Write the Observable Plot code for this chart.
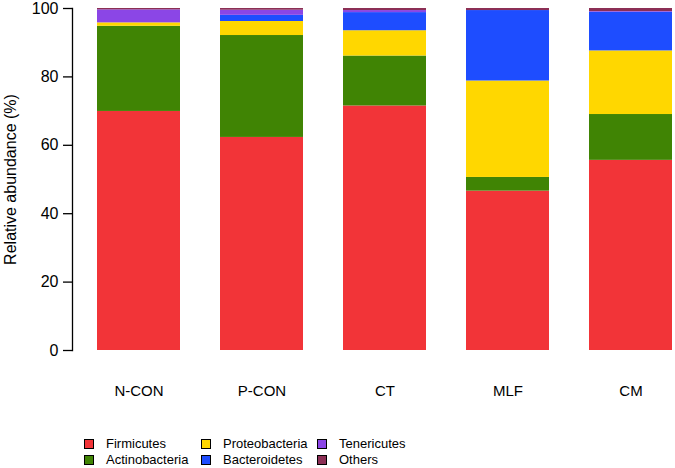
<!DOCTYPE html>
<html><head><meta charset="utf-8">
<script src="https://cdn.jsdelivr.net/npm/d3@7"></script>
<script src="https://cdn.jsdelivr.net/npm/@observablehq/plot@0.6"></script>
<style>
body{margin:0;background:#fff;font-family:"Liberation Sans",Arial,sans-serif;}
#wrap{position:relative;width:675px;height:468px;}
.leg{position:absolute;font-size:13px;color:#000;line-height:16px;white-space:nowrap;}
.sw{display:inline-block;width:8px;height:8px;border:1px solid #000;margin-right:12px;vertical-align:-1px;}
</style></head>
<body><div id="wrap"></div>
<script>
const groups = ["N-CON","P-CON","CT","MLF","CM"];
const phyla = ["Firmicutes","Actinobacteria","Proteobacteria","Bacteroidetes","Tenericutes","Others"];
const colors = ["#F23438","#408404","#FFD700","#1E4DFF","#8B46E6","#8C2F55"];
const firmicutes     = [69.9, 62.3, 71.5, 46.6, 55.6];
const actinobacteria = [24.9, 29.8, 14.6,  4.0, 13.4];
const proteobacteria = [ 1.0,  4.1,  7.4, 28.2, 18.6];
const bacteroidetes  = [ 0.0,  1.8,  5.3, 20.6, 11.3];
const tenericutes    = [ 3.8,  1.5,  0.6,  0.0,  0.2];
const others         = [ 0.4,  0.5,  0.6,  0.6,  0.9];
const yTicks = [0, 20, 40, 60, 80, 100];

const series = [firmicutes, actinobacteria, proteobacteria, bacteroidetes, tenericutes, others];
const data = [];
phyla.forEach((p, i) => groups.forEach((g, j) => data.push({group: g, phylum: p, value: series[i][j]})));

const chart = Plot.plot({
  width: 675, height: 400,
  marginLeft: 72, marginRight: 2, marginTop: 8, marginBottom: 50,
  style: {fontFamily: '"Liberation Sans", Arial, sans-serif', fontSize: "15px", color: "#000"},
  x: {domain: groups, range: [96, 673], paddingInner: 0.327, paddingOuter: 0, label: null},
  y: {domain: [0, 100], label: null},
  color: {domain: phyla, range: colors},
  marks: [
    Plot.barY(data, {x: "group", y: "value", fill: "phylum", order: phyla}),
    Plot.frame({anchor: "left", stroke: "#000", strokeWidth: 1.3}),
    Plot.axisY({ticks: yTicks, tickSize: 9, tickPadding: 5, fontSize: 16, strokeWidth: 1.3, label: null}),
    Plot.axisX({tickSize: 0, tickPadding: 35, fontSize: 15, label: null}),
    Plot.text(["Relative abundance (%)"], {frameAnchor: "left", textAnchor: "middle", dx: -62, rotate: -90, fontSize: 16})
  ]
});
const wrap = document.getElementById("wrap");
wrap.appendChild(chart);

const cols = [[0,1],[2,3],[4,5]];
const colX = [84, 201, 317];
const rowY = [436, 452];
cols.forEach((c, ci) => c.forEach((k, ri) => {
  const d = document.createElement("div");
  d.className = "leg";
  d.style.left = colX[ci] + "px";
  d.style.top = rowY[ri] + "px";
  d.innerHTML = `<span class="sw" style="background:${colors[k]}"></span>${phyla[k]}`;
  wrap.appendChild(d);
}));
</script></body></html>
